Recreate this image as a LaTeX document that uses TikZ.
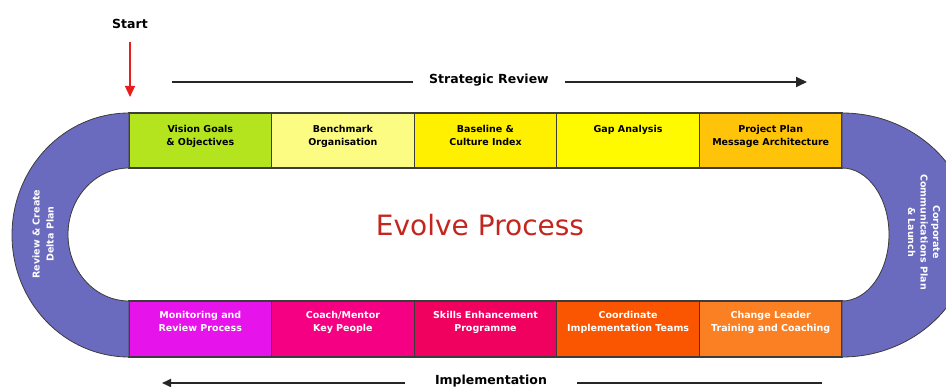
\documentclass[tikz,border=0pt]{standalone}
\usepackage{fontspec}
\setmainfont{DejaVu Sans}
\usetikzlibrary{calc}
\usetikzlibrary{positioning}
\usetikzlibrary{arrows.meta}
\definecolor{edgeGray}{RGB}{60,60,60}
\definecolor{bandPurple}{RGB}{106,106,190}
\definecolor{visionGreen}{RGB}{180,228,30}
\definecolor{paleYellow}{RGB}{252,252,130}
\definecolor{baseYellow}{RGB}{255,240,0}
\definecolor{gapYellow}{RGB}{255,250,0}
\definecolor{planOrange}{RGB}{255,195,10}
\definecolor{monitorMagenta}{RGB}{230,20,235}
\definecolor{coachPink}{RGB}{245,0,130}
\definecolor{skillsRed}{RGB}{240,0,95}
\definecolor{teamOrange}{RGB}{250,85,0}
\definecolor{leaderOrange}{RGB}{250,128,35}
\definecolor{evolveRed}{RGB}{195,38,30}
\definecolor{startRed}{RGB}{230,30,30}
\newcommand{\boxText}[2][8pt]{\parbox[c][47pt][t]{134pt}{\centering\vspace*{#1}#2}}
\tikzset{
  stepBox/.style={%
    draw=edgeGray, line width=1.2pt, minimum width=142.6pt,
    minimum height=55pt, inner sep=4pt, outer sep=0pt,
    font=\bfseries\fontsize{9.5}{13}\selectfont,
  },
  topBox/.style={stepBox, text=black},
  bottomBox/.style={stepBox, text=white, minimum height=56pt},
  bendBand/.style={fill=bandPurple, draw=edgeGray, line width=0.8pt},
  bandText/.style={text=white, align=center},
  phaseText/.style={font=\bfseries\fontsize{12.5}{15}\selectfont, inner ysep=0pt},
  phaseLine/.style={line width=1.8pt, draw=black!85},
}
\begin{document}
\begin{tikzpicture}[x=1pt, y=-1pt]
                \useasboundingbox (0,0) rectangle (946,387);
                % top row
                \node[topBox, fill=visionGreen]
                  (vision) at (200.3,140.5) {\boxText{Vision Goals\\ \& Objectives}};
                \node[topBox, fill=paleYellow, right=0pt of vision]
                  (benchmark) {\boxText{Benchmark\\ Organisation}};
                \node[topBox, fill=baseYellow, right=0pt of benchmark]
                  (baseline) {\boxText{Baseline \&\\ Culture Index}};
                \node[topBox, fill=gapYellow, right=0pt of baseline]
                  (gap) {\boxText{Gap Analysis}};
                \node[topBox, fill=planOrange, right=0pt of gap]
                  (project) {\boxText{Project Plan\\ Message Architecture}};
                % bottom row
                \node[bottomBox, fill=monitorMagenta]
                  (monitor) at (200.3,329) {\boxText[6pt]{Monitoring and\\ Review Process}};
                \node[bottomBox, fill=coachPink, right=0pt of monitor]
                  (coach) {\boxText[6pt]{Coach/Mentor\\ Key People}};
                \node[bottomBox, fill=skillsRed, right=0pt of coach]
                  (skills) {\boxText[6pt]{Skills Enhancement\\ Programme}};
                \node[bottomBox, fill=teamOrange, right=0pt of skills]
                  (teams) {\boxText[6pt]{Coordinate\\ Implementation Teams}};
                \node[bottomBox, fill=leaderOrange, right=0pt of teams]
                  (change) {\boxText[6pt]{Change Leader\\ Training and Coaching}};
                % bends
                \draw[bendBand]
                  (vision.north west)
                  arc[start angle=270, end angle=90, x radius=117, y radius=122]
                  -- (monitor.south west) -- (monitor.north west)
                  arc[start angle=90, end angle=270, x radius=61, y radius=66.5]
                  -- cycle;
                \draw[bendBand]
                  (project.north east)
                  arc[start angle=-90, end angle=90, x radius=130, y radius=122]
                  -- (change.south east) -- (change.north east)
                  arc[start angle=90, end angle=-90, x radius=47, y radius=66.5]
                  -- cycle;
                \node[bandText, rotate=90, font=\bfseries\fontsize{9.5}{14}\selectfont]
                  (delta) at (43,234) {Review \& Create\\ Delta Plan};
                \node[bandText, rotate=-90, font=\bfseries\fontsize{9.5}{12.5}\selectfont]
                  (launch) at (924,232) {Corporate\\ Communications Plan\\ \& Launch};
                % title
                \node[text=evolveRed, font=\fontsize{28}{34}\selectfont]
                  (title) at (480,225) {Evolve Process};
                % start arrow
                \node[phaseText] (start) at (130,24) {Start};
                \coordinate (startTip) at (130,97);
                \draw[startRed, line width=1.3pt, ->, >={Triangle[length=11pt,width=10pt]},
                  shorten <=13pt]
                  (start) -- (startTip)
                  ;
                % strategic review
                \node[phaseText, inner xsep=16pt] (strategic) at (489,80) {Strategic Review};
                \coordinate (srStart) at (172,82);
                \coordinate (srEnd) at (807,82);
                \draw[phaseLine]
                  (srStart) -- (strategic.west |- srStart)
                  ;
                \draw[phaseLine, ->, >={Triangle[length=11pt,width=10pt]}]
                  (strategic.east |- srEnd) -- (srEnd)
                  ;
                % implementation
                \node[phaseText, inner xsep=30pt] (implement) at (491,381) {Implementation};
                \coordinate (imEnd) at (162,383);
                \coordinate (imStart) at (822,383);
                \draw[phaseLine, ->, >={Triangle[length=9pt,width=8pt]}]
                  (implement.west |- imEnd) -- (imEnd)
                  ;
                \draw[phaseLine]
                  (imStart) -- (implement.east |- imStart)
                  ;
              \end{tikzpicture}
\end{document}
